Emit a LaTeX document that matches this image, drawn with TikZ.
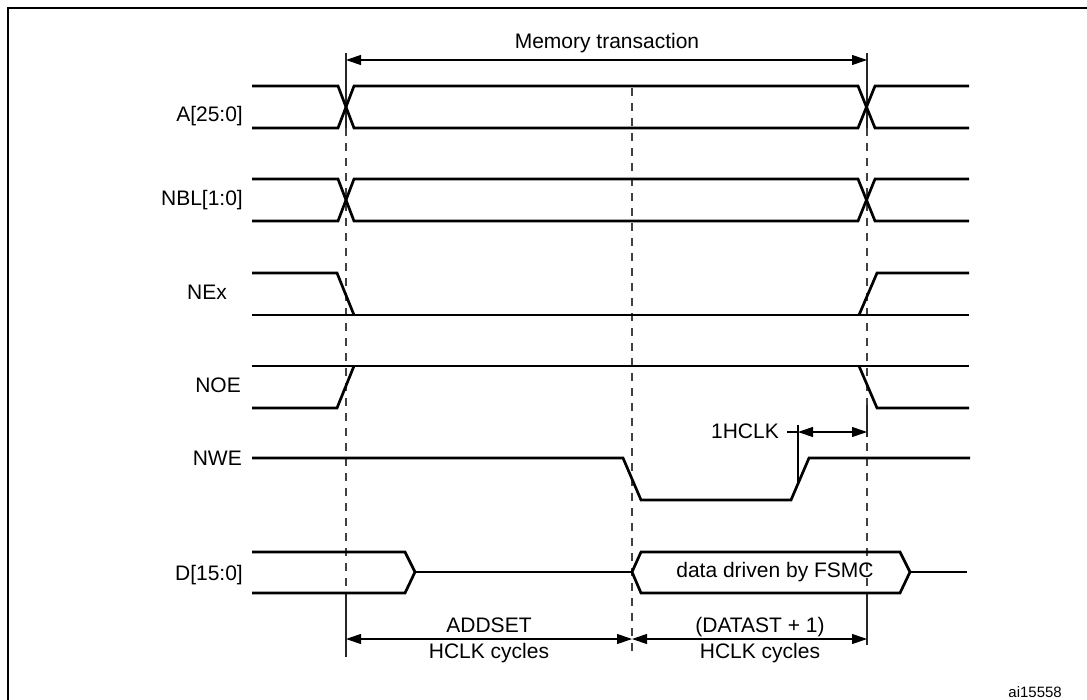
\documentclass[tikz,border=0pt]{standalone}
\usepackage{fontspec}
\setmainfont{Liberation Sans}
\usetikzlibrary{arrows.meta}
\begin{document}
\begin{tikzpicture}[x=1pt,y=-1pt,
  sig/.style={line width=2.7pt, line join=miter, line cap=butt},
  guide/.style={line width=1.4pt, dash pattern=on 8pt off 7pt, draw=black!75},
  guidesolid/.style={line width=1.2pt, draw=black!85},
  dimline/.style={line width=1.1pt, {Triangle[length=15pt,width=10pt]}-{Triangle[length=15pt,width=10pt]}},
  thin/.style={line width=1.1pt},
  lbl/.style={font=\fontsize{21}{25}\selectfont, inner sep=0pt},
  sml/.style={font=\fontsize{15}{18}\selectfont, inner sep=0pt},
]
\useasboundingbox (0,0) rectangle (1087,699);
\clip (0,0) rectangle (1087,699);
\fill[white] (0,0) rectangle (1087,699);
\draw[line width=2.8pt] (8,8) rectangle (1110,720);

% guide lines
\draw[guidesolid] (346,53) -- (346,128);
\draw[guide] (346,128) -- (346,593);
\draw[guidesolid] (346,593) -- (346,657);
\draw[guide] (632,88) -- (632,657);
\draw[guidesolid] (867,53) -- (867,128);
\draw[guide] (867,128) -- (867,593);
\draw[guidesolid] (867,405) -- (867,437);
\draw[guidesolid] (867,593) -- (867,645);

% A[25:0]
\draw[sig] (252,86) -- (338,86) -- (354,128) -- (858,128) -- (875,86) -- (969,86);
\draw[sig] (252,128) -- (338,128) -- (354,86) -- (858,86) -- (875,128) -- (969,128);
% NBL[1:0]
\draw[sig] (252,179) -- (338,179) -- (354,221) -- (858,221) -- (875,179) -- (969,179);
\draw[sig] (252,221) -- (338,221) -- (354,179) -- (858,179) -- (875,221) -- (969,221);
% NEx
\draw[sig] (252,273) -- (337,273) -- (354,315);
\draw[sig] (252,315) -- (969,315);
\draw[sig] (859,315) -- (877,273) -- (969,273);
% NOE
\draw[sig] (252,366) -- (969,366);
\draw[sig] (252,408) -- (337,408) -- (354,366);
\draw[sig] (859,366) -- (877,408) -- (969,408);
% NWE
\draw[sig] (252,458) -- (623,458) -- (641,500) -- (791,500) -- (809,458) -- (970,458);
% D[15:0]
\draw[sig] (252,552) -- (405,552) -- (415,572) -- (405,593) -- (252,593);
\draw[sig] (415,572) -- (632,572);
\draw[sig] (632,572) -- (641,552) -- (900,552) -- (910,572) -- (900,593) -- (641,593) -- cycle;
\draw[sig] (910,572) -- (967,572);

% signal labels
\node[lbl, anchor=base east] (lA) at (243,121) {A[25:0]};
\node[lbl, anchor=base east] (lNBL) at (243,205) {NBL[1:0]};
\node[lbl, anchor=base east] (lNEx) at (227,299) {NEx};
\node[lbl, anchor=base east] (lNOE) at (241,392) {NOE};
\node[lbl, anchor=base east] (lNWE) at (242,465) {NWE};
\node[lbl, anchor=base east] (lD) at (243,580) {D[15:0]};

% memory transaction
\coordinate (mtL) at (346,60);
\coordinate (mtR) at (867,60);
\draw[dimline] (mtL) -- (mtR);
\node[lbl, anchor=base] (mt) at (607,48) {Memory transaction};

% data label
\node[lbl, anchor=base] (dd) at (775,577) {data driven by FSMC};

% 1HCLK
\node[lbl, anchor=base east] (hc) at (779,438) {1HCLK};
\coordinate (hcL) at (787,432);
\coordinate (hcT) at (798,432);
\coordinate (hcR) at (867,432);
\coordinate (tickTop) at (798,425);
\coordinate (tickBot) at (798,484);
\draw[thin] (hcL) -- (hcT);
\draw[thin] (tickTop) -- (tickBot);
\draw[dimline] (hcT) -- (hcR);

% bottom dimensions
\coordinate (b1) at (346,639);
\coordinate (b2) at (632,639);
\coordinate (b3) at (867,639);
\draw[dimline] (b1) -- (b2);
\draw[dimline] (b2) -- (b3);
\node[lbl, anchor=base] (ad1) at (489,632) {ADDSET};
\node[lbl, anchor=base] (ad2) at (489,658) {HCLK cycles};
\node[lbl, anchor=base] (da1) at (760,632) {(DATAST + 1)};
\node[lbl, anchor=base] (da2) at (760,658) {HCLK cycles};

\node[sml, anchor=base east] (ai) at (1062,697) {ai15558};
\end{tikzpicture}
\end{document}
